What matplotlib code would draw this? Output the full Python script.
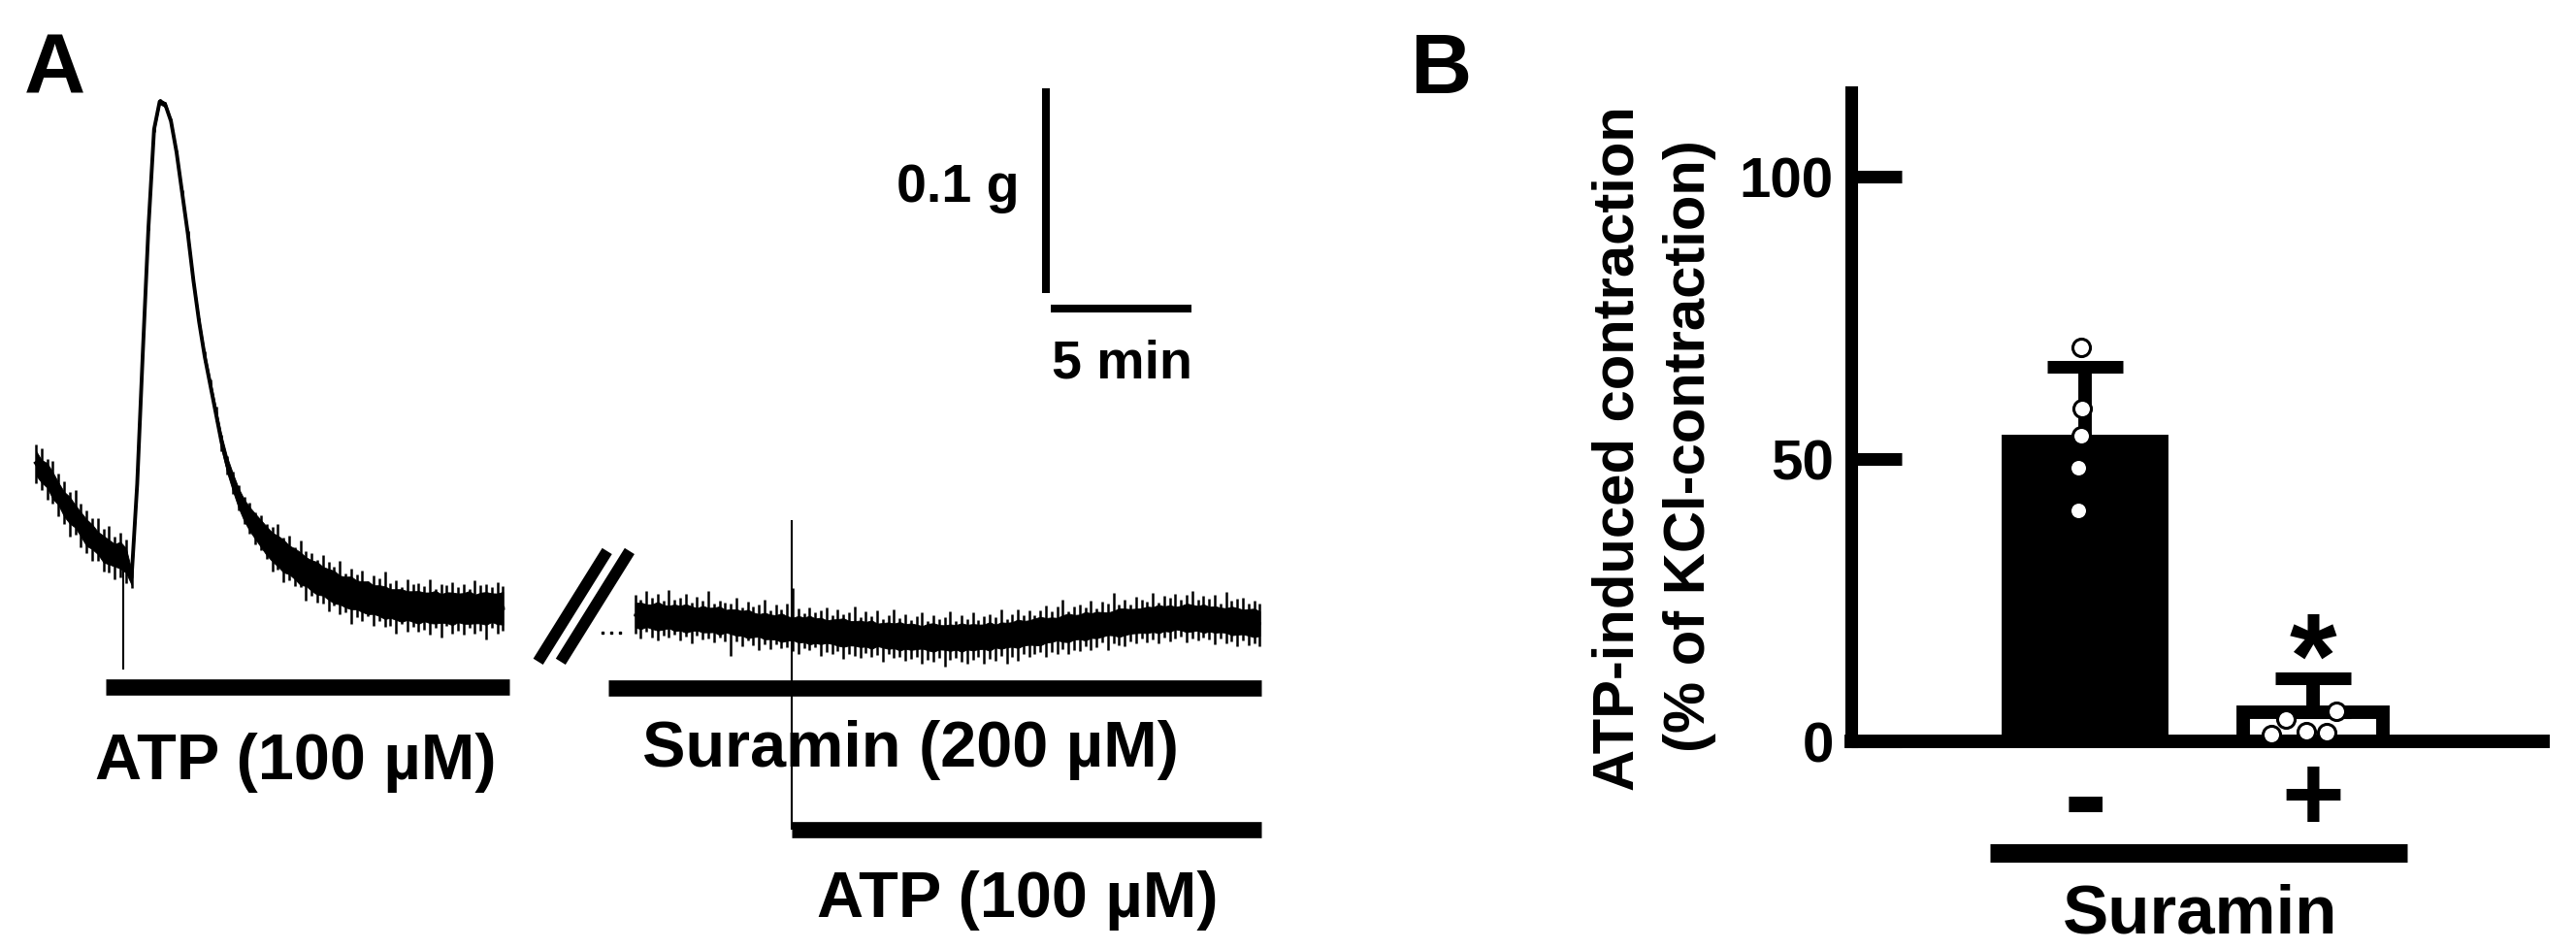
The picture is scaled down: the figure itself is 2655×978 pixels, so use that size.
import numpy as np
import matplotlib
matplotlib.use("Agg")
import matplotlib.pyplot as plt

plt.rcParams['font.family'] = ['Liberation Sans', 'DejaVu Sans']
plt.rcParams['font.weight'] = 'bold'

W, H, DPI = 2655, 979, 100

# ---------------- panel A: isometric tension traces ----------------
# time in min, tension in mg (0 = late baseline of the first trace)
# mid = centre of the trace, core = half width of the dense noise band,
# up / dn = largest excursion above / below the centre at that sample
dt1 = 0.2
trace1_mid = [71, 67, 65, 60, 56, 51, 48, 45, 41, 37, 35, 32, 29, 27.5, 26, 26, 23.5,
              15, 60.7, 125, 186, 234, 247.6, 246, 238, 222.7, 202.8, 183, 160, 140,
              123, 109, 95, 81, 70, 61.6, 54, 48, 43.6, 40, 36.5, 33, 30, 28, 25.6,
              23.7, 21.8, 19.4, 18, 16, 14.7, 13.3, 11.8, 10.4, 9, 8, 7.6, 6.6, 5.7,
              5.2, 4.3, 3.8, 2.8, 2.4, 1.9, 1.4, 1.4, 0.9, 0.5, 0.8, 0.3, 0.6, 0.0,
              0.4, -0.2, 0.3, 0.0, 0.5, -0.3, 0.2, 0.0, 0.4, -0.2, 0.1]
trace1_core = [6, 5.5, 6, 6.5, 5.5, 6, 6.5, 5.5, 6, 6.5, 6, 5.5, 6.5, 6, 5.5, 6.5, 6,
               3.5,
               1.2, 1.2, 1.2, 1.2, 1.2, 1.2, 1.2, 1.2, 1.3, 1.4, 1.6, 1.8,
               2.0, 2.4, 2.8, 3.3, 3.8, 4.3, 4.8, 5.3, 5.8, 6.2, 6.6, 7.0,
               7, 7.5, 8, 7, 7.5, 8, 7, 7.5, 8, 7, 7.5, 8, 7, 7.5, 8, 7, 7.5, 8, 7, 7.5,
               8, 7, 7.5, 8, 7, 7.5, 8, 7, 7.5, 8, 7, 7.5, 8, 7, 7.5, 8, 7, 7.5, 8, 7,
               7.5, 8]
trace1_up = [9, 11, 8, 12, 10, 11, 9, 13, 10, 11, 9, 12, 10, 13, 9, 11, 10,
             5,
             1.2, 1.2, 1.2, 1.2, 1.2, 1.2, 1.2, 1.2, 1.3, 1.4, 1.6, 1.8,
             2.5, 3, 3.5, 4, 4.5, 5, 6, 6.5, 8, 7, 9, 8,
             10, 13, 9, 12, 8, 14, 10, 11, 9, 13, 11, 10, 14, 9, 12, 10, 13, 8, 12, 11,
             15, 10, 12, 9, 13, 11, 12, 10, 14, 9, 12, 11, 13, 10, 12, 9, 14, 11, 12, 10,
             13, 11]
trace1_dn = [10, 9, 12, 9, 11, 10, 13, 9, 11, 10, 12, 9, 11, 10, 12, 11, 11,
             5,
             1.2, 1.2, 1.2, 1.2, 1.2, 1.2, 1.2, 1.2, 1.3, 1.4, 1.6, 1.8,
             2.5, 3, 3.5, 4, 4.5, 5.5, 6, 7, 7, 8.5, 8, 9,
             12, 9, 13, 10, 11, 9, 14, 10, 12, 11, 13, 9, 12, 10, 15, 11, 12, 9, 13, 10,
             12, 11, 14, 9, 13, 10, 12, 11, 13, 10, 14, 9, 12, 11, 13, 10, 12, 11, 15, 10,
             12, 11]
artifact1_t, artifact1_low = 3.1, -29.9

t2_start, dt2 = 21.3, 0.2
trace2_mid = [-3.3, -3.6, -3.5, -4.0, -3.8, -4.3, -4.1, -4.6, -4.7, -4.9,
              -5.0, -5.3, -5.2, -5.7, -5.6, -6.0, -6.2, -6.4, -6.9, -7.3,
              -7.6, -8.0, -8.3, -8.6, -9.0, -9.3, -9.4, -9.8, -10.0, -10.2,
              -10.4, -10.6, -10.9, -11.0, -11.3, -11.4, -11.7, -11.8, -12.1, -12.2,
              -12.4, -12.6, -12.8, -12.9, -13.1, -13.3, -13.4, -13.6, -13.7, -13.8,
              -13.9, -14.1, -14.0, -14.2, -14.1, -14.2, -14.3, -14.1, -14.2, -14.0,
              -14.1, -13.9, -13.8, -13.7, -13.5, -13.3, -13.0, -12.7, -12.4, -12.1,
              -11.8, -11.4, -11.1, -10.7, -10.4, -10.1, -9.8, -9.5, -9.2, -9.0,
              -8.7, -8.4, -8.1, -7.8, -7.5, -7.2, -6.9, -6.6, -6.3, -6.1,
              -5.9, -5.6, -5.4, -5.2, -5.0, -4.9, -4.7, -4.7, -4.6, -4.7,
              -4.8, -5.0, -5.2, -5.4, -5.6, -5.9, -6.1, -6.3, -6.6, -6.8, -7.1, -7.4]
trace2_core = [6, 6.5, 5.5, 6, 7, 6, 5.5, 6.5, 6, 7,
               6, 5.5, 6.5, 6, 6, 7, 5.5, 6, 6.5, 6,
               7, 6, 5.5, 6.5, 6, 6, 7, 6, 5.5, 6.5,
               6, 7, 6, 6.5, 5.5, 6, 6.5, 7, 6, 6,
               6.5, 6, 7, 5.5, 6, 6.5, 6, 7, 6, 6.5,
               6, 5.5, 6.5, 7, 6, 6, 6.5, 6, 7, 6,
               6.5, 6, 6, 7, 5.5, 6.5, 6, 6, 7, 6,
               6, 6.5, 7, 6, 6, 5.5, 6.5, 7, 6, 6,
               7, 6, 6.5, 6, 5.5, 6, 7, 6.5, 6, 6,
               6, 6.5, 6, 7, 6, 6.5, 5.5, 6, 7, 6.5,
               6, 7, 6, 6.5, 6, 6, 7, 6.5, 6, 6.5, 7, 6]
trace2_up = [10, 8, 12, 9, 11, 8, 13, 9, 10, 12,
             8, 11, 9, 14, 8, 10, 9, 9, 12, 8,
             11, 9, 10, 13, 8, 11, 9, 12, 20, 10,
             8, 11, 9, 10, 12, 8, 11, 9, 10, 13,
             8, 11, 9, 12, 8, 10, 13, 9, 11, 8,
             10, 12, 8, 11, 9, 10, 13, 8, 11, 9,
             12, 8, 10, 11, 9, 13, 8, 10, 12, 9,
             11, 8, 10, 12, 9, 11, 14, 8, 10, 11,
             9, 12, 8, 11, 10, 15, 9, 11, 8, 12,
             10, 9, 13, 8, 11, 10, 12, 9, 11, 13,
             9, 11, 10, 12, 8, 14, 10, 11, 12, 9, 11, 10]
trace2_dn = [9, 11, 8, 10, 12, 9, 10, 8, 11, 9,
             12, 8, 10, 9, 11, 8, 10, 17, 9, 11,
             8, 10, 12, 9, 11, 8, 10, 9, 11, 12,
             9, 10, 8, 12, 10, 11, 9, 13, 10, 11,
             12, 9, 11, 10, 13, 9, 11, 10, 12, 11,
             10, 13, 11, 12, 10, 14, 11, 10, 12, 13,
             11, 10, 13, 11, 12, 10, 14, 11, 13, 10,
             12, 11, 10, 13, 11, 12, 10, 13, 11, 12,
             10, 12, 11, 9, 13, 10, 11, 12, 10, 11,
             9, 11, 10, 12, 9, 11, 10, 9, 12, 10,
             11, 9, 10, 12, 9, 11, 10, 12, 9, 11, 10, 11]
trace2_pre_t = [20.15, 20.45, 20.75]
trace2_pre_y = [-11.8, -11.8, -11.8]

atp1_on, atp1_off = 2.48, 16.83
sur_on, sur_off = 20.34, 43.55
atp2_on, atp2_off = 26.86, 43.55
artifact2_top = 43.1

scale_t, scale_y = 35.9, 154.0
scale_min, scale_mg = 5, 100

# ---------------- panel B: summary ----------------
groups = ['-', '+']
means = [53.1, 5.2]
sds = [13.2, 6.0]
ctrl_pts = [69.8, 58.9, 54.1, 48.4, 40.9]
ctrl_dx = [-0.017, -0.013, -0.017, -0.030, -0.030]
sur_pts = [1.2, 4.0, 1.7, 1.5, 5.3]
sur_dx = [-0.183, -0.119, -0.030, 0.060, 0.102]


def fx(px):
    return px / W


def fy(py):
    return 1 - py / H


def draw_trace(ax, t, mid, core, up, dn, lw):
    mid, core = np.array(mid), np.array(core)
    ax.fill_between(t, mid - core, mid + core, color='k', lw=0.6)
    ax.vlines(t, mid - np.array(dn), mid + np.array(up), color='k', lw=1.8)
    ax.plot(t, mid, color='k', lw=lw)


fig = plt.figure(figsize=(W / DPI, H / DPI), dpi=DPI)

# panel A axes: 29 px per min, 2.11 px per mg
axA = fig.add_axes([0, 0, fx(1400), 1])
axA.set_xlim((0 - 37) / 29, (1400 - 37) / 29)
axA.set_ylim((628 - 979) / 2.11, 628 / 2.11)
axA.axis('off')

t1 = dt1 * np.arange(len(trace1_mid))
draw_trace(axA, t1, trace1_mid, trace1_core, trace1_up, trace1_dn, 2.8)
axA.vlines(artifact1_t, artifact1_low, np.interp(artifact1_t, t1, trace1_mid),
           color='k', lw=1.5)

t2 = t2_start + dt2 * np.arange(len(trace2_mid))
draw_trace(axA, t2, trace2_mid, trace2_core, trace2_up, trace2_dn, 2.0)
axA.plot(trace2_pre_t, trace2_pre_y, 's', color='k', ms=1.5)
axA.vlines(atp2_on, -108.1, artifact2_top, color='k', lw=1.5)

# drug application bars
axA.plot([atp1_on, atp1_off], [-38.4, -38.4], color='k', lw=12, solid_capstyle='butt')
axA.plot([sur_on, sur_off], [-38.9, -38.9], color='k', lw=12, solid_capstyle='butt')
axA.plot([atp2_on, atp2_off], [-108.1, -108.1], color='k', lw=12, solid_capstyle='butt')

# break marks
gap_t = 19.1
for off in (0.0, 0.8):
    axA.plot([gap_t + 1.2 + off, gap_t - 1.25 + off], [28.0, -26.0], color='k', lw=8.5,
             solid_capstyle='butt')

# scale bars
axA.plot([scale_t, scale_t], [scale_y, scale_y + scale_mg], color='k', lw=5.8,
         solid_capstyle='butt')
axA.plot([scale_t + 0.17, scale_t + 0.17 + scale_min], [scale_y - 7.6, scale_y - 7.6],
         color='k', lw=5.8, solid_capstyle='butt')

fig.text(fx(25), fy(96), 'A', fontsize=63, ha='left', va='baseline')
fig.text(fx(1050), fy(208), '0.1 g', fontsize=40, ha='right', va='baseline')
fig.text(fx(1156), fy(390), '5 min', fontsize=40, ha='center', va='baseline')
fig.text(fx(305), fy(803), 'ATP (100 µM)', fontsize=48, ha='center', va='baseline')
fig.text(fx(939), fy(790), 'Suramin (200 µM)', fontsize=48, ha='center', va='baseline')
fig.text(fx(1049), fy(945), 'ATP (100 µM)', fontsize=48, ha='center', va='baseline')

# panel B axes
axB = fig.add_axes([fx(1908), fy(765), (2621 - 1908) / W, (765 - 95.7) / H])
axB.set_xlim(-1.0255, 2.009)
axB.set_ylim(0, 115)
x = np.arange(len(groups))
axB.bar(x, means, width=[0.67, 0.61], color=['k', 'w'], edgecolor='k', linewidth=10,
        zorder=2)
axB.errorbar(x, means, yerr=[[0, 0], sds], fmt='none', ecolor='k', elinewidth=10,
             capsize=28.4, capthick=9.4, zorder=3)
axB.plot(x[0] + np.array(ctrl_dx), ctrl_pts, 'o', ms=13, mfc='w', mec='k', mew=2.2,
         zorder=5, clip_on=False)
axB.plot(x[1] + np.array(sur_dx), sur_pts, 'o', ms=13, mfc='w', mec='k', mew=2.2,
         zorder=5, clip_on=False)

for side in ('top', 'right'):
    axB.spines[side].set_visible(False)
axB.spines['left'].set_linewidth(9.4)
axB.spines['bottom'].set_linewidth(10)
axB.set_yticks([0, 50, 100])
axB.tick_params(axis='y', direction='in', length=37.4, width=9.4, pad=13, labelsize=42)
axB.set_xticks([])

for xi, lab, fs, yb in zip(x, groups, [98, 80], [-17.0, -15.6]):
    axB.text(xi, yb, lab, fontsize=fs, ha='center', va='baseline')

axB.text(1, 7.9, '*', fontsize=90, ha='center', va='baseline')
axB.plot([-0.417, 1.413], [-19.76, -19.76], color='k', lw=13.7, solid_capstyle='butt',
         clip_on=False)
axB.text(0.506, -33.8, 'Suramin', fontsize=51, ha='center', va='baseline')

fig.text(fx(1684), fy(462), 'ATP-induced contraction', fontsize=43, rotation=90,
         rotation_mode='anchor', ha='center', va='baseline')
fig.text(fx(1757), fy(460), '(% of KCl-contraction)', fontsize=43, rotation=90,
         rotation_mode='anchor', ha='center', va='baseline')
fig.text(fx(1453), fy(96), 'B', fontsize=63, ha='left', va='baseline')

fig.savefig('out.png', dpi=DPI)
